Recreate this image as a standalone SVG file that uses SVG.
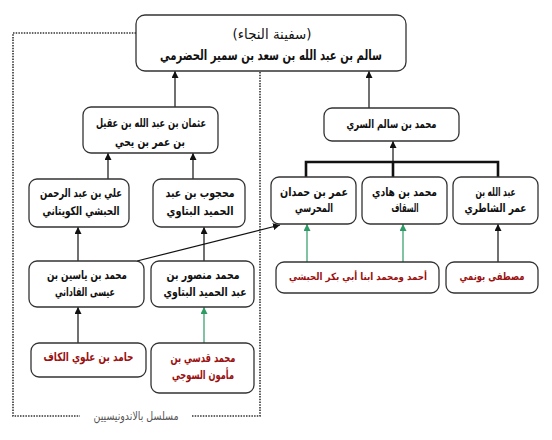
<svg xmlns="http://www.w3.org/2000/svg" width="552" height="440" viewBox="0 0 552 440">
<defs>
<marker id="ah" viewBox="0 0 8 8" refX="8" refY="4" markerWidth="7" markerHeight="7" markerUnits="userSpaceOnUse" orient="auto">
<path d="M0,0 L8,4 L0,8 z" fill="#111"/>
</marker>
<marker id="ahg" viewBox="0 0 8 8" refX="8" refY="4" markerWidth="7" markerHeight="7" markerUnits="userSpaceOnUse" orient="auto">
<path d="M0,0 L8,4 L0,8 z" fill="#2e9a66"/>
</marker>
<style>
.box{fill:#fff;stroke:#333;stroke-width:1.3}
.t{font-family:"DejaVu Sans","Noto Sans",sans-serif;font-size:12px;font-weight:bold;fill:#111;text-anchor:middle;direction:rtl}
.r{fill:#9b1111}
.ln{fill:none;stroke:#111;stroke-width:1.2;marker-end:url(#ah)}
.gr{fill:none;stroke:#2e9a66;stroke-width:1.2;marker-end:url(#ahg)}
.br{fill:none;stroke:#111;stroke-width:2.6}
.dot{fill:none;stroke:#333;stroke-width:1.6;stroke-dasharray:1.5 1.2}
</style>
</defs>
<rect width="552" height="440" fill="#fff"/>
<g id="connectors">
<path class="dot" d="M136,33 H13 V416 H80"/>
<path class="dot" d="M192,416 H260 V71"/>
<path class="ln" d="M175,107 V71"/>
<path class="ln" d="M369,108 V71"/>
<path class="ln" d="M108,179 V153"/>
<path class="ln" d="M193,179 V153"/>
<path class="ln" d="M78,261 V227"/>
<path class="ln" d="M204,261 V227"/>
<path class="ln" d="M78,343 V307"/>
<path class="gr" d="M204,343 V307"/>
<path class="ln" d="M137,261 L280,225"/>
<path class="br" d="M306,177 V162 H498 V177 M393,162 V177"/>
<path class="ln" d="M393,162 V141"/>
<path class="gr" d="M307,262 V224"/>
<path class="gr" d="M403,262 V224"/>
<path class="ln" d="M498,262 V224"/>
<text x="136" y="420" textLength="85" lengthAdjust="spacingAndGlyphs" style="font-family:'DejaVu Sans','Noto Sans',sans-serif;font-size:12px;fill:#555;text-anchor:middle;direction:rtl">مسلسل بالاندونيسيين</text>
</g>
<g id="top">
<rect class="box" x="136" y="15" width="270" height="56" rx="9"/>
<text class="t" x="272" y="39" textLength="79" lengthAdjust="spacingAndGlyphs" style="font-size:14px;font-weight:normal">(سفينة النجاء)</text>
<text class="t" x="271" y="60" textLength="222" lengthAdjust="spacingAndGlyphs" style="font-size:14px">سالم بن عبد الله بن سعد بن سمير الحضرمي</text>
</g>
<g id="uthman">
<rect class="box" x="83" y="107" width="135" height="46" rx="8"/>
<text class="t" x="151" y="127" textLength="110" lengthAdjust="spacingAndGlyphs">عثمان بن عبد الله بن عقيل</text>
<text class="t" x="150" y="146" textLength="70" lengthAdjust="spacingAndGlyphs">بن عمر بن يحي</text>
</g>
<g id="ali">
<rect class="box" x="29" y="179" width="100" height="48" rx="8"/>
<text class="t" x="81" y="197" textLength="82" lengthAdjust="spacingAndGlyphs">علي بن عبد الرحمن</text>
<text class="t" x="81" y="215" textLength="77" lengthAdjust="spacingAndGlyphs">الحبشي الكويتاني</text>
</g>
<g id="mahjub">
<rect class="box" x="153" y="179" width="92" height="48" rx="8"/>
<text class="t" x="200" y="197" textLength="69" lengthAdjust="spacingAndGlyphs">محجوب بن عبد</text>
<text class="t" x="200" y="215" textLength="67" lengthAdjust="spacingAndGlyphs">الحميد البتاوي</text>
</g>
<g id="yasin">
<rect class="box" x="29" y="261" width="115" height="46" rx="8"/>
<text class="t" x="87" y="279" textLength="80" lengthAdjust="spacingAndGlyphs">محمد بن ياسين بن</text>
<text class="t" x="85" y="296" textLength="60" lengthAdjust="spacingAndGlyphs">عيسى الفاداني</text>
</g>
<g id="mansur">
<rect class="box" x="151" y="261" width="103" height="46" rx="8"/>
<text class="t" x="203" y="279" textLength="73" lengthAdjust="spacingAndGlyphs">محمد منصور بن</text>
<text class="t" x="205" y="296" textLength="83" lengthAdjust="spacingAndGlyphs">عبد الحميد البتاوي</text>
</g>
<g id="hamid">
<rect class="box" x="31" y="343" width="115" height="34" rx="8"/>
<text class="t r" x="88.5" y="361" textLength="90" lengthAdjust="spacingAndGlyphs">حامد بن علوي الكاف</text>
</g>
<g id="qudsi">
<rect class="box" x="151" y="343" width="103" height="50" rx="8"/>
<text class="t r" x="203" y="362" textLength="65" lengthAdjust="spacingAndGlyphs">محمد قدسي بن</text>
<text class="t r" x="203" y="379" textLength="62" lengthAdjust="spacingAndGlyphs">مأمون السوجي</text>
</g>
<g id="sari">
<rect class="box" x="324" y="108" width="135" height="33" rx="8"/>
<text class="t" x="391.5" y="128" textLength="90" lengthAdjust="spacingAndGlyphs">محمد بن سالم السري</text>
</g>
<g id="hamdan">
<rect class="box" x="271" y="177" width="85" height="47" rx="8"/>
<text class="t" x="314" y="196" textLength="68" lengthAdjust="spacingAndGlyphs">عمر بن حمدان</text>
<text class="t" x="314" y="212" textLength="38" lengthAdjust="spacingAndGlyphs">المحرسي</text>
</g>
<g id="hadi">
<rect class="box" x="362" y="177" width="85" height="47" rx="8"/>
<text class="t" x="404.5" y="196" textLength="65" lengthAdjust="spacingAndGlyphs">محمد بن هادي</text>
<text class="t" x="405" y="212" textLength="27" lengthAdjust="spacingAndGlyphs">السقاف</text>
</g>
<g id="shatiri">
<rect class="box" x="453" y="177" width="85" height="47" rx="8"/>
<text class="t" x="495.5" y="196" textLength="40" lengthAdjust="spacingAndGlyphs">عبد الله بن</text>
<text class="t" x="495.5" y="212" textLength="62" lengthAdjust="spacingAndGlyphs">عمر الشاطري</text>
</g>
<g id="habashi">
<rect class="box" x="276" y="262" width="163" height="31" rx="8"/>
<text class="t r" x="358" y="280" textLength="138" lengthAdjust="spacingAndGlyphs" style="font-size:10px">أحمد ومحمد ابنا أبي بكر الحبشي</text>
</g>
<g id="mustafa">
<rect class="box" x="446" y="262" width="92" height="31" rx="8"/>
<text class="t r" x="492" y="280" textLength="65" lengthAdjust="spacingAndGlyphs" style="font-size:11px">مصطفى بونمي</text>
</g>
</svg>
